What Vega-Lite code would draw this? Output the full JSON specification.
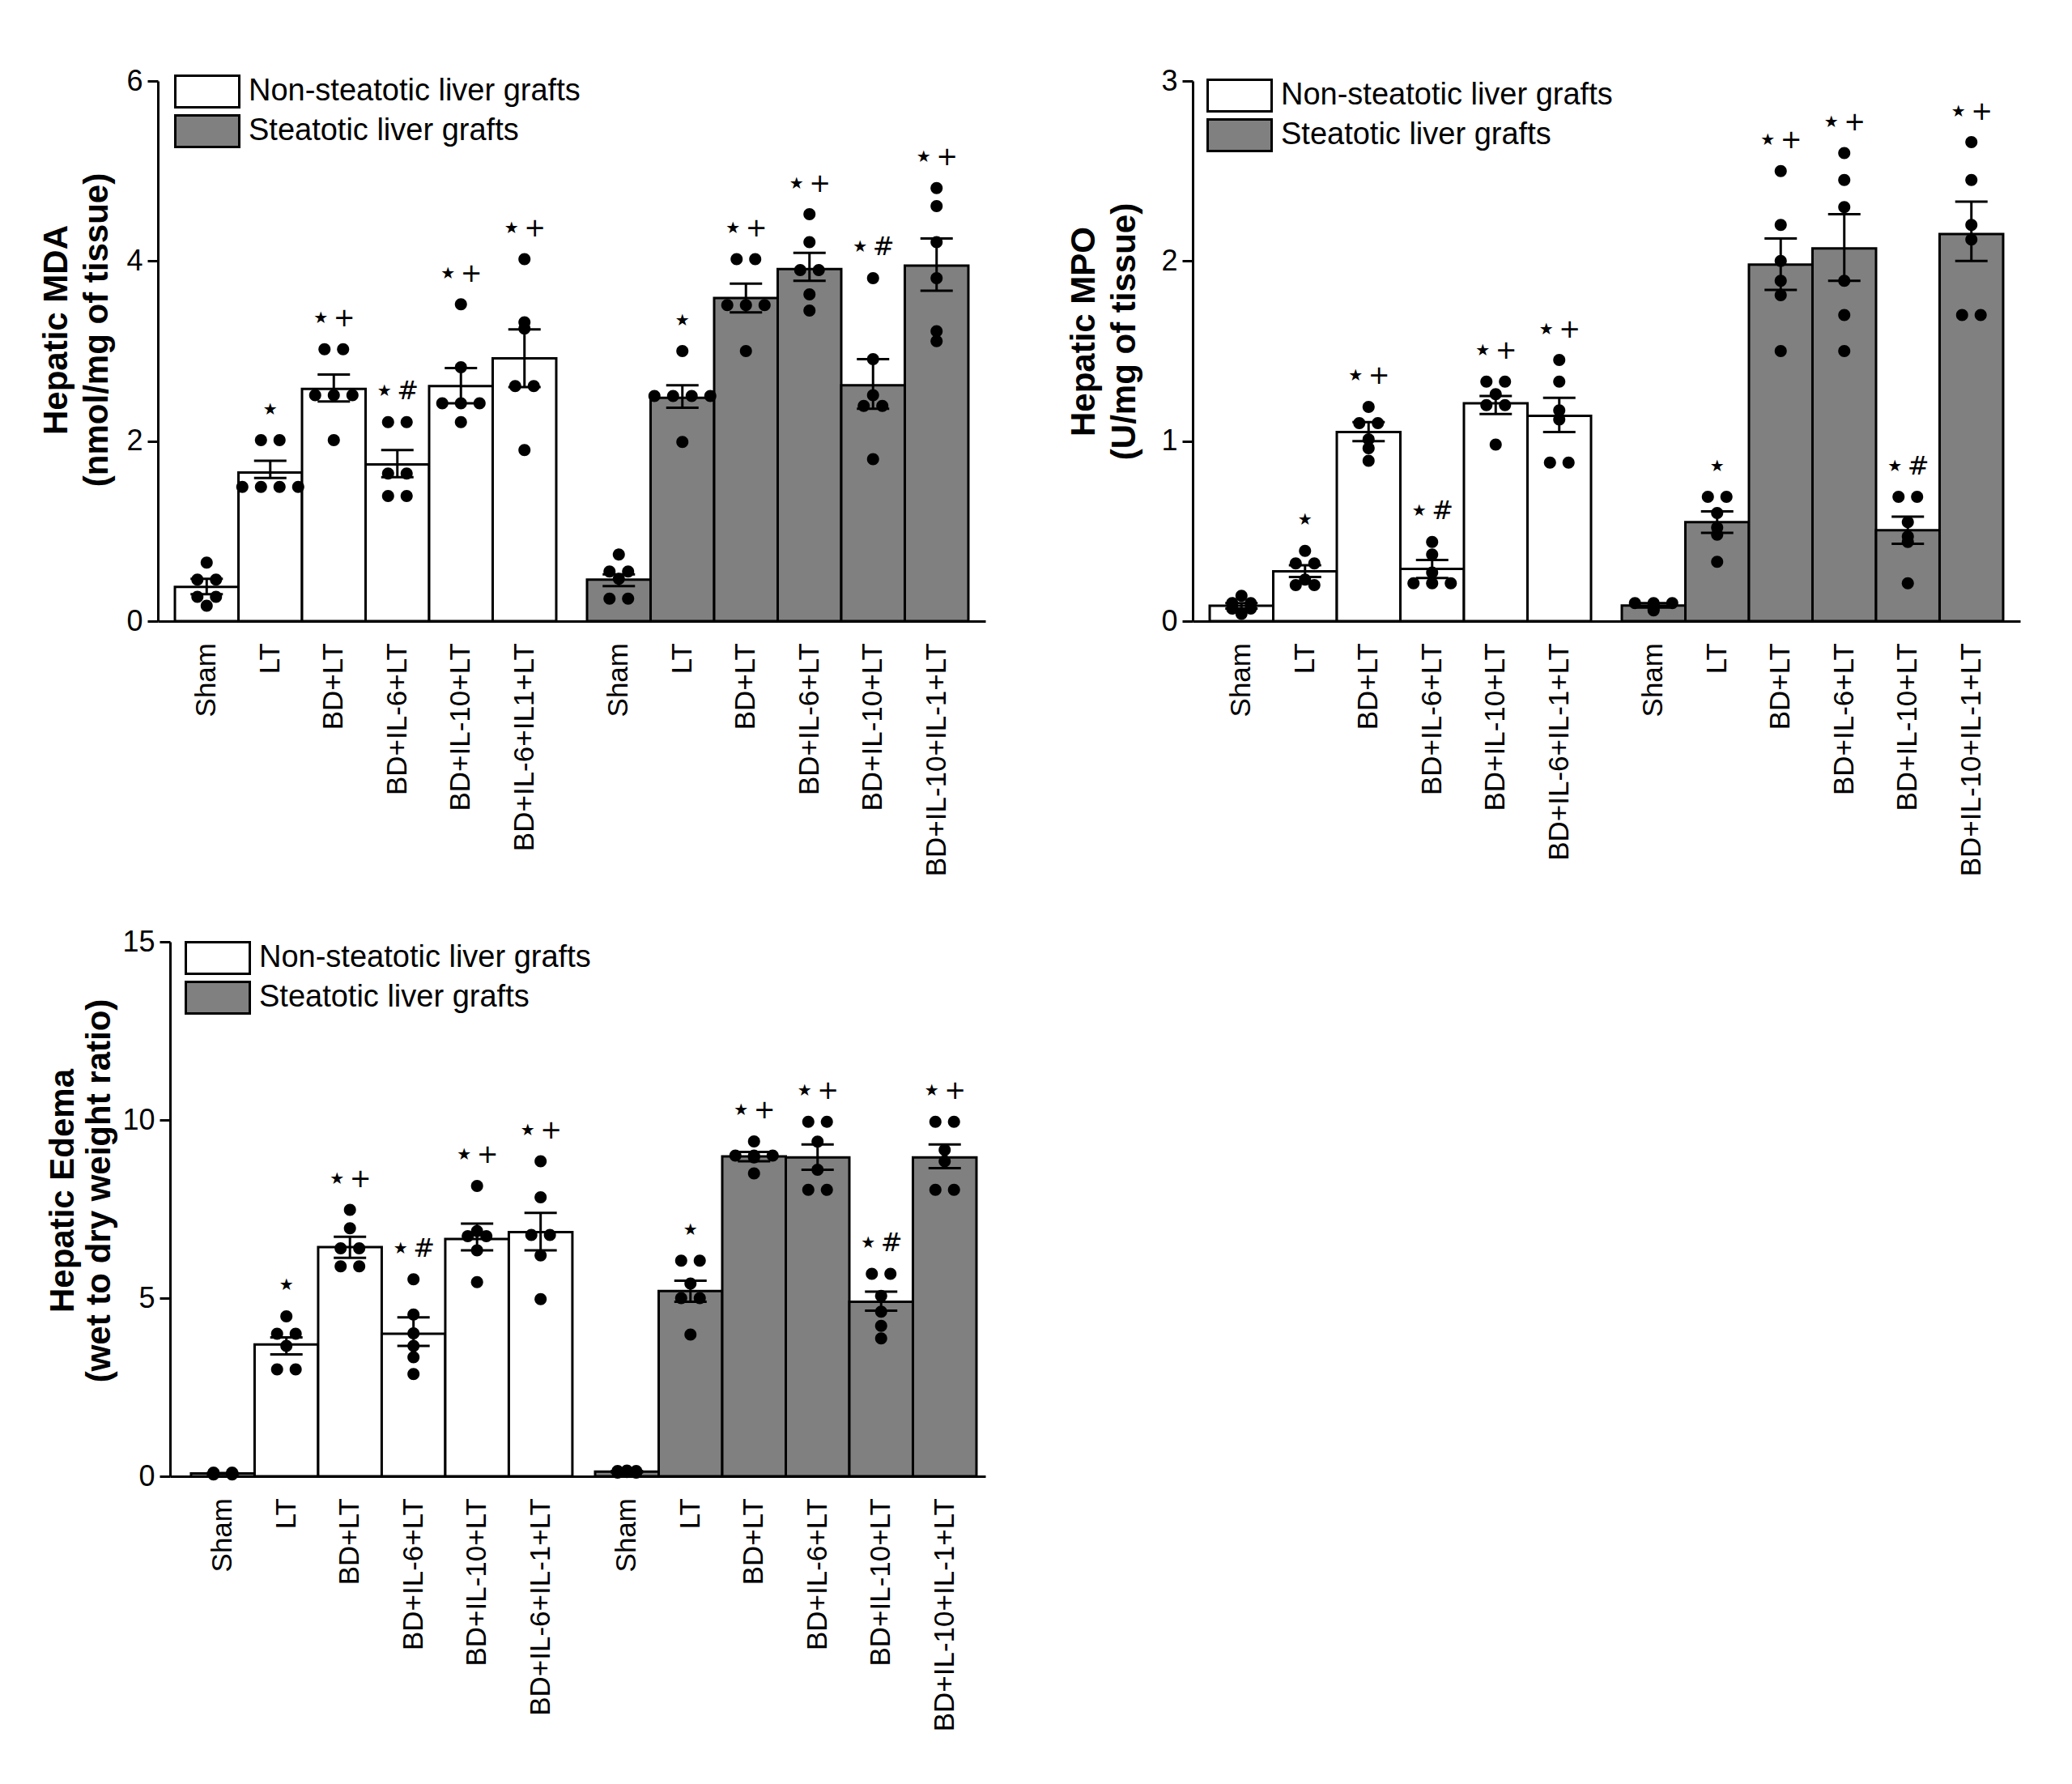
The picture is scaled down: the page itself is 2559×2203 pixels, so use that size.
{
"$schema":"https://vega.github.io/schema/vega-lite/v6.json",
"background":"white",
"padding":{"left":48,"top":82,"right":10,"bottom":10},
"columns":2,
"spacing":{"row":396,"column":256},
"bounds":"flush",
"datasets":{
"bars":[
{"bar":"MDA|N|Sham","panel":"MDA","graft":"Non-steatotic liver grafts","treatment":"Sham","label":"Sham","mean":0.38,"lo":0.3,"hi":0.47,"star":"","sign":""},
{"bar":"MDA|N|LT","panel":"MDA","graft":"Non-steatotic liver grafts","treatment":"LT","label":"LT","mean":1.65,"lo":1.59,"hi":1.78,"star":"★","sign":""},
{"bar":"MDA|N|BD+LT","panel":"MDA","graft":"Non-steatotic liver grafts","treatment":"BD+LT","label":"BD+LT","mean":2.58,"lo":2.44,"hi":2.74,"star":"★","sign":"+"},
{"bar":"MDA|N|BD+IL-6+LT","panel":"MDA","graft":"Non-steatotic liver grafts","treatment":"BD+IL-6+LT","label":"BD+IL-6+LT","mean":1.74,"lo":1.6,"hi":1.9,"star":"★","sign":"#"},
{"bar":"MDA|N|BD+IL-10+LT","panel":"MDA","graft":"Non-steatotic liver grafts","treatment":"BD+IL-10+LT","label":"BD+IL-10+LT","mean":2.61,"lo":2.42,"hi":2.81,"star":"★","sign":"+"},
{"bar":"MDA|N|Combined","panel":"MDA","graft":"Non-steatotic liver grafts","treatment":"Combined","label":"BD+IL-6+IL1+LT","mean":2.92,"lo":2.6,"hi":3.24,"star":"★","sign":"+"},
{"bar":"MDA|S|Sham","panel":"MDA","graft":"Steatotic liver grafts","treatment":"Sham","label":"Sham","mean":0.46,"lo":0.39,"hi":0.52,"star":"","sign":""},
{"bar":"MDA|S|LT","panel":"MDA","graft":"Steatotic liver grafts","treatment":"LT","label":"LT","mean":2.48,"lo":2.37,"hi":2.62,"star":"★","sign":""},
{"bar":"MDA|S|BD+LT","panel":"MDA","graft":"Steatotic liver grafts","treatment":"BD+LT","label":"BD+LT","mean":3.59,"lo":3.43,"hi":3.75,"star":"★","sign":"+"},
{"bar":"MDA|S|BD+IL-6+LT","panel":"MDA","graft":"Steatotic liver grafts","treatment":"BD+IL-6+LT","label":"BD+IL-6+LT","mean":3.91,"lo":3.78,"hi":4.09,"star":"★","sign":"+"},
{"bar":"MDA|S|BD+IL-10+LT","panel":"MDA","graft":"Steatotic liver grafts","treatment":"BD+IL-10+LT","label":"BD+IL-10+LT","mean":2.62,"lo":2.36,"hi":2.91,"star":"★","sign":"#"},
{"bar":"MDA|S|Combined","panel":"MDA","graft":"Steatotic liver grafts","treatment":"Combined","label":"BD+IL-10+IL-1+LT","mean":3.95,"lo":3.67,"hi":4.25,"star":"★","sign":"+"},
{"bar":"MPO|N|Sham","panel":"MPO","graft":"Non-steatotic liver grafts","treatment":"Sham","label":"Sham","mean":0.085,"lo":0.07,"hi":0.1,"star":"","sign":""},
{"bar":"MPO|N|LT","panel":"MPO","graft":"Non-steatotic liver grafts","treatment":"LT","label":"LT","mean":0.277,"lo":0.245,"hi":0.31,"star":"★","sign":""},
{"bar":"MPO|N|BD+LT","panel":"MPO","graft":"Non-steatotic liver grafts","treatment":"BD+LT","label":"BD+LT","mean":1.05,"lo":1.0,"hi":1.105,"star":"★","sign":"+"},
{"bar":"MPO|N|BD+IL-6+LT","panel":"MPO","graft":"Non-steatotic liver grafts","treatment":"BD+IL-6+LT","label":"BD+IL-6+LT","mean":0.29,"lo":0.24,"hi":0.34,"star":"★","sign":"#"},
{"bar":"MPO|N|BD+IL-10+LT","panel":"MPO","graft":"Non-steatotic liver grafts","treatment":"BD+IL-10+LT","label":"BD+IL-10+LT","mean":1.21,"lo":1.15,"hi":1.25,"star":"★","sign":"+"},
{"bar":"MPO|N|Combined","panel":"MPO","graft":"Non-steatotic liver grafts","treatment":"Combined","label":"BD+IL-6+IL-1+LT","mean":1.14,"lo":1.05,"hi":1.24,"star":"★","sign":"+"},
{"bar":"MPO|S|Sham","panel":"MPO","graft":"Steatotic liver grafts","treatment":"Sham","label":"Sham","mean":0.087,"lo":0.075,"hi":0.1,"star":"","sign":""},
{"bar":"MPO|S|LT","panel":"MPO","graft":"Steatotic liver grafts","treatment":"LT","label":"LT","mean":0.55,"lo":0.49,"hi":0.61,"star":"★","sign":""},
{"bar":"MPO|S|BD+LT","panel":"MPO","graft":"Steatotic liver grafts","treatment":"BD+LT","label":"BD+LT","mean":1.98,"lo":1.84,"hi":2.125,"star":"★","sign":"+"},
{"bar":"MPO|S|BD+IL-6+LT","panel":"MPO","graft":"Steatotic liver grafts","treatment":"BD+IL-6+LT","label":"BD+IL-6+LT","mean":2.07,"lo":1.89,"hi":2.26,"star":"★","sign":"+"},
{"bar":"MPO|S|BD+IL-10+LT","panel":"MPO","graft":"Steatotic liver grafts","treatment":"BD+IL-10+LT","label":"BD+IL-10+LT","mean":0.505,"lo":0.43,"hi":0.58,"star":"★","sign":"#"},
{"bar":"MPO|S|Combined","panel":"MPO","graft":"Steatotic liver grafts","treatment":"Combined","label":"BD+IL-10+IL-1+LT","mean":2.15,"lo":2.0,"hi":2.33,"star":"★","sign":"+"},
{"bar":"Edema|N|Sham","panel":"Edema","graft":"Non-steatotic liver grafts","treatment":"Sham","label":"Sham","mean":0.077,"lo":0.06,"hi":0.09,"star":"","sign":""},
{"bar":"Edema|N|LT","panel":"Edema","graft":"Non-steatotic liver grafts","treatment":"LT","label":"LT","mean":3.7,"lo":3.42,"hi":3.9,"star":"★","sign":""},
{"bar":"Edema|N|BD+LT","panel":"Edema","graft":"Non-steatotic liver grafts","treatment":"BD+LT","label":"BD+LT","mean":6.43,"lo":6.13,"hi":6.72,"star":"★","sign":"+"},
{"bar":"Edema|N|BD+IL-6+LT","panel":"Edema","graft":"Non-steatotic liver grafts","treatment":"BD+IL-6+LT","label":"BD+IL-6+LT","mean":4.0,"lo":3.66,"hi":4.46,"star":"★","sign":"#"},
{"bar":"Edema|N|BD+IL-10+LT","panel":"Edema","graft":"Non-steatotic liver grafts","treatment":"BD+IL-10+LT","label":"BD+IL-10+LT","mean":6.66,"lo":6.34,"hi":7.09,"star":"★","sign":"+"},
{"bar":"Edema|N|Combined","panel":"Edema","graft":"Non-steatotic liver grafts","treatment":"Combined","label":"BD+IL-6+IL-1+LT","mean":6.85,"lo":6.34,"hi":7.39,"star":"★","sign":"+"},
{"bar":"Edema|S|Sham","panel":"Edema","graft":"Steatotic liver grafts","treatment":"Sham","label":"Sham","mean":0.13,"lo":0.11,"hi":0.15,"star":"","sign":""},
{"bar":"Edema|S|LT","panel":"Edema","graft":"Steatotic liver grafts","treatment":"LT","label":"LT","mean":5.2,"lo":4.9,"hi":5.49,"star":"★","sign":""},
{"bar":"Edema|S|BD+LT","panel":"Edema","graft":"Steatotic liver grafts","treatment":"BD+LT","label":"BD+LT","mean":8.98,"lo":8.84,"hi":9.1,"star":"★","sign":"+"},
{"bar":"Edema|S|BD+IL-6+LT","panel":"Edema","graft":"Steatotic liver grafts","treatment":"BD+IL-6+LT","label":"BD+IL-6+LT","mean":8.95,"lo":8.6,"hi":9.31,"star":"★","sign":"+"},
{"bar":"Edema|S|BD+IL-10+LT","panel":"Edema","graft":"Steatotic liver grafts","treatment":"BD+IL-10+LT","label":"BD+IL-10+LT","mean":4.9,"lo":4.65,"hi":5.18,"star":"★","sign":"#"},
{"bar":"Edema|S|Combined","panel":"Edema","graft":"Steatotic liver grafts","treatment":"Combined","label":"BD+IL-10+IL-1+LT","mean":8.95,"lo":8.65,"hi":9.31,"star":"★","sign":"+"}
],
"dots":[
{"bar":"MDA|N|Sham","value":0.65},{"bar":"MDA|N|Sham","value":0.46},{"bar":"MDA|N|Sham","value":0.46},{"bar":"MDA|N|Sham","value":0.27},{"bar":"MDA|N|Sham","value":0.27},{"bar":"MDA|N|Sham","value":0.17},
{"bar":"MDA|N|LT","value":2.01},{"bar":"MDA|N|LT","value":2.01},{"bar":"MDA|N|LT","value":1.49},{"bar":"MDA|N|LT","value":1.49},{"bar":"MDA|N|LT","value":1.49},{"bar":"MDA|N|LT","value":1.49},
{"bar":"MDA|N|BD+LT","value":3.02},{"bar":"MDA|N|BD+LT","value":3.02},{"bar":"MDA|N|BD+LT","value":2.51},{"bar":"MDA|N|BD+LT","value":2.51},{"bar":"MDA|N|BD+LT","value":2.51},{"bar":"MDA|N|BD+LT","value":2.01},
{"bar":"MDA|N|BD+IL-6+LT","value":2.21},{"bar":"MDA|N|BD+IL-6+LT","value":2.21},{"bar":"MDA|N|BD+IL-6+LT","value":1.64},{"bar":"MDA|N|BD+IL-6+LT","value":1.64},{"bar":"MDA|N|BD+IL-6+LT","value":1.39},{"bar":"MDA|N|BD+IL-6+LT","value":1.39},
{"bar":"MDA|N|BD+IL-10+LT","value":3.52},{"bar":"MDA|N|BD+IL-10+LT","value":2.82},{"bar":"MDA|N|BD+IL-10+LT","value":2.42},{"bar":"MDA|N|BD+IL-10+LT","value":2.42},{"bar":"MDA|N|BD+IL-10+LT","value":2.42},{"bar":"MDA|N|BD+IL-10+LT","value":2.21},
{"bar":"MDA|N|Combined","value":4.02},{"bar":"MDA|N|Combined","value":3.32},{"bar":"MDA|N|Combined","value":3.25},{"bar":"MDA|N|Combined","value":2.61},{"bar":"MDA|N|Combined","value":2.61},{"bar":"MDA|N|Combined","value":1.9},
{"bar":"MDA|S|Sham","value":0.74},{"bar":"MDA|S|Sham","value":0.55},{"bar":"MDA|S|Sham","value":0.55},{"bar":"MDA|S|Sham","value":0.47},{"bar":"MDA|S|Sham","value":0.25},{"bar":"MDA|S|Sham","value":0.25},
{"bar":"MDA|S|LT","value":3.0},{"bar":"MDA|S|LT","value":2.5},{"bar":"MDA|S|LT","value":2.5},{"bar":"MDA|S|LT","value":2.5},{"bar":"MDA|S|LT","value":2.5},{"bar":"MDA|S|LT","value":1.99},
{"bar":"MDA|S|BD+LT","value":4.02},{"bar":"MDA|S|BD+LT","value":4.02},{"bar":"MDA|S|BD+LT","value":3.51},{"bar":"MDA|S|BD+LT","value":3.51},{"bar":"MDA|S|BD+LT","value":3.51},{"bar":"MDA|S|BD+LT","value":3.0},
{"bar":"MDA|S|BD+IL-6+LT","value":4.52},{"bar":"MDA|S|BD+IL-6+LT","value":4.21},{"bar":"MDA|S|BD+IL-6+LT","value":3.9},{"bar":"MDA|S|BD+IL-6+LT","value":3.9},{"bar":"MDA|S|BD+IL-6+LT","value":3.63},{"bar":"MDA|S|BD+IL-6+LT","value":3.45},
{"bar":"MDA|S|BD+IL-10+LT","value":3.81},{"bar":"MDA|S|BD+IL-10+LT","value":2.91},{"bar":"MDA|S|BD+IL-10+LT","value":2.51},{"bar":"MDA|S|BD+IL-10+LT","value":2.39},{"bar":"MDA|S|BD+IL-10+LT","value":2.39},{"bar":"MDA|S|BD+IL-10+LT","value":1.8},
{"bar":"MDA|S|Combined","value":4.81},{"bar":"MDA|S|Combined","value":4.61},{"bar":"MDA|S|Combined","value":4.21},{"bar":"MDA|S|Combined","value":3.81},{"bar":"MDA|S|Combined","value":3.22},{"bar":"MDA|S|Combined","value":3.11},
{"bar":"MPO|N|Sham","value":0.14},{"bar":"MPO|N|Sham","value":0.1},{"bar":"MPO|N|Sham","value":0.1},{"bar":"MPO|N|Sham","value":0.07},{"bar":"MPO|N|Sham","value":0.07},{"bar":"MPO|N|Sham","value":0.04},
{"bar":"MPO|N|LT","value":0.39},{"bar":"MPO|N|LT","value":0.32},{"bar":"MPO|N|LT","value":0.32},{"bar":"MPO|N|LT","value":0.23},{"bar":"MPO|N|LT","value":0.2},{"bar":"MPO|N|LT","value":0.2},
{"bar":"MPO|N|BD+LT","value":1.19},{"bar":"MPO|N|BD+LT","value":1.1},{"bar":"MPO|N|BD+LT","value":1.1},{"bar":"MPO|N|BD+LT","value":1.01},{"bar":"MPO|N|BD+LT","value":0.96},{"bar":"MPO|N|BD+LT","value":0.89},
{"bar":"MPO|N|BD+IL-6+LT","value":0.44},{"bar":"MPO|N|BD+IL-6+LT","value":0.37},{"bar":"MPO|N|BD+IL-6+LT","value":0.27},{"bar":"MPO|N|BD+IL-6+LT","value":0.21},{"bar":"MPO|N|BD+IL-6+LT","value":0.21},{"bar":"MPO|N|BD+IL-6+LT","value":0.21},
{"bar":"MPO|N|BD+IL-10+LT","value":1.33},{"bar":"MPO|N|BD+IL-10+LT","value":1.33},{"bar":"MPO|N|BD+IL-10+LT","value":1.26},{"bar":"MPO|N|BD+IL-10+LT","value":1.2},{"bar":"MPO|N|BD+IL-10+LT","value":1.2},{"bar":"MPO|N|BD+IL-10+LT","value":0.98},
{"bar":"MPO|N|Combined","value":1.45},{"bar":"MPO|N|Combined","value":1.33},{"bar":"MPO|N|Combined","value":1.17},{"bar":"MPO|N|Combined","value":1.12},{"bar":"MPO|N|Combined","value":0.88},{"bar":"MPO|N|Combined","value":0.88},
{"bar":"MPO|S|Sham","value":0.1},{"bar":"MPO|S|Sham","value":0.1},{"bar":"MPO|S|Sham","value":0.1},{"bar":"MPO|S|Sham","value":0.09},{"bar":"MPO|S|Sham","value":0.07},{"bar":"MPO|S|Sham","value":0.06},
{"bar":"MPO|S|LT","value":0.69},{"bar":"MPO|S|LT","value":0.69},{"bar":"MPO|S|LT","value":0.6},{"bar":"MPO|S|LT","value":0.52},{"bar":"MPO|S|LT","value":0.48},{"bar":"MPO|S|LT","value":0.33},
{"bar":"MPO|S|BD+LT","value":2.5},{"bar":"MPO|S|BD+LT","value":2.2},{"bar":"MPO|S|BD+LT","value":2.0},{"bar":"MPO|S|BD+LT","value":1.89},{"bar":"MPO|S|BD+LT","value":1.81},{"bar":"MPO|S|BD+LT","value":1.5},
{"bar":"MPO|S|BD+IL-6+LT","value":2.6},{"bar":"MPO|S|BD+IL-6+LT","value":2.45},{"bar":"MPO|S|BD+IL-6+LT","value":2.3},{"bar":"MPO|S|BD+IL-6+LT","value":1.89},{"bar":"MPO|S|BD+IL-6+LT","value":1.7},{"bar":"MPO|S|BD+IL-6+LT","value":1.5},
{"bar":"MPO|S|BD+IL-10+LT","value":0.69},{"bar":"MPO|S|BD+IL-10+LT","value":0.69},{"bar":"MPO|S|BD+IL-10+LT","value":0.55},{"bar":"MPO|S|BD+IL-10+LT","value":0.47},{"bar":"MPO|S|BD+IL-10+LT","value":0.44},{"bar":"MPO|S|BD+IL-10+LT","value":0.21},
{"bar":"MPO|S|Combined","value":2.66},{"bar":"MPO|S|Combined","value":2.45},{"bar":"MPO|S|Combined","value":2.2},{"bar":"MPO|S|Combined","value":2.12},{"bar":"MPO|S|Combined","value":1.7},{"bar":"MPO|S|Combined","value":1.7},
{"bar":"Edema|N|Sham","value":0.1},{"bar":"Edema|N|Sham","value":0.1},{"bar":"Edema|N|Sham","value":0.08},{"bar":"Edema|N|Sham","value":0.08},{"bar":"Edema|N|Sham","value":0.05},{"bar":"Edema|N|Sham","value":0.05},
{"bar":"Edema|N|LT","value":4.49},{"bar":"Edema|N|LT","value":4.0},{"bar":"Edema|N|LT","value":4.0},{"bar":"Edema|N|LT","value":3.66},{"bar":"Edema|N|LT","value":3.0},{"bar":"Edema|N|LT","value":3.0},
{"bar":"Edema|N|BD+LT","value":7.48},{"bar":"Edema|N|BD+LT","value":6.96},{"bar":"Edema|N|BD+LT","value":6.4},{"bar":"Edema|N|BD+LT","value":6.4},{"bar":"Edema|N|BD+LT","value":5.89},{"bar":"Edema|N|BD+LT","value":5.89},
{"bar":"Edema|N|BD+IL-6+LT","value":5.53},{"bar":"Edema|N|BD+IL-6+LT","value":4.54},{"bar":"Edema|N|BD+IL-6+LT","value":4.01},{"bar":"Edema|N|BD+IL-6+LT","value":3.66},{"bar":"Edema|N|BD+IL-6+LT","value":3.34},{"bar":"Edema|N|BD+IL-6+LT","value":2.87},
{"bar":"Edema|N|BD+IL-10+LT","value":8.15},{"bar":"Edema|N|BD+IL-10+LT","value":6.88},{"bar":"Edema|N|BD+IL-10+LT","value":6.74},{"bar":"Edema|N|BD+IL-10+LT","value":6.74},{"bar":"Edema|N|BD+IL-10+LT","value":6.34},{"bar":"Edema|N|BD+IL-10+LT","value":5.45},
{"bar":"Edema|N|Combined","value":8.84},{"bar":"Edema|N|Combined","value":7.83},{"bar":"Edema|N|Combined","value":6.77},{"bar":"Edema|N|Combined","value":6.77},{"bar":"Edema|N|Combined","value":6.2},{"bar":"Edema|N|Combined","value":4.97},
{"bar":"Edema|S|Sham","value":0.16},{"bar":"Edema|S|Sham","value":0.15},{"bar":"Edema|S|Sham","value":0.15},{"bar":"Edema|S|Sham","value":0.12},{"bar":"Edema|S|Sham","value":0.1},{"bar":"Edema|S|Sham","value":0.1},
{"bar":"Edema|S|LT","value":6.05},{"bar":"Edema|S|LT","value":6.05},{"bar":"Edema|S|LT","value":5.41},{"bar":"Edema|S|LT","value":5.0},{"bar":"Edema|S|LT","value":5.0},{"bar":"Edema|S|LT","value":3.98},
{"bar":"Edema|S|BD+LT","value":9.4},{"bar":"Edema|S|BD+LT","value":9.0},{"bar":"Edema|S|BD+LT","value":9.0},{"bar":"Edema|S|BD+LT","value":9.0},{"bar":"Edema|S|BD+LT","value":8.95},{"bar":"Edema|S|BD+LT","value":8.5},
{"bar":"Edema|S|BD+IL-6+LT","value":9.95},{"bar":"Edema|S|BD+IL-6+LT","value":9.95},{"bar":"Edema|S|BD+IL-6+LT","value":9.39},{"bar":"Edema|S|BD+IL-6+LT","value":8.6},{"bar":"Edema|S|BD+IL-6+LT","value":8.04},{"bar":"Edema|S|BD+IL-6+LT","value":8.04},
{"bar":"Edema|S|BD+IL-10+LT","value":5.68},{"bar":"Edema|S|BD+IL-10+LT","value":5.68},{"bar":"Edema|S|BD+IL-10+LT","value":5.06},{"bar":"Edema|S|BD+IL-10+LT","value":4.62},{"bar":"Edema|S|BD+IL-10+LT","value":4.22},{"bar":"Edema|S|BD+IL-10+LT","value":3.87},
{"bar":"Edema|S|Combined","value":9.95},{"bar":"Edema|S|Combined","value":9.95},{"bar":"Edema|S|Combined","value":9.16},{"bar":"Edema|S|Combined","value":8.84},{"bar":"Edema|S|Combined","value":8.04},{"bar":"Edema|S|Combined","value":8.04}
]
},
"concat":[
{
"width":1022,"height":667,
"encoding":{
"x":{"field":"graft","type":"nominal","scale":{"domain":["Non-steatotic liver grafts","Steatotic liver grafts"],"paddingInner":0.0747,"paddingOuter":0.0413},"axis":{"title":null,"labels":false,"ticks":false,"domainColor":"black","domainWidth":3}},
"xOffset":{"field":"treatment","type":"nominal","scale":{"domain":["Sham","LT","BD+LT","BD+IL-6+LT","BD+IL-10+LT","Combined"],"paddingInner":0,"paddingOuter":0}}
},
"layer":[
{"data":{"name":"bars"},"transform":[{"filter":"datum.panel === 'MDA'"}],"mark":{"type":"bar","stroke":"black","strokeWidth":3},
"encoding":{"y":{"field":"mean","type":"quantitative","scale":{"domain":[0,6],"nice":false},"axis":{"title":["Hepatic MDA","(nmol/mg of tissue)"],"values":[0,2,4,6],"titleX":-104,"titleY":307}},
"fill":{"field":"graft","type":"nominal","scale":{"domain":["Non-steatotic liver grafts","Steatotic liver grafts"],"range":["#ffffff","#808080"]},"legend":{"title":null,"orient":"none","legendX":20,"legendY":-8,"padding":0,"symbolType":"M-1,-0.494H1V0.494H-1Z","symbolSize":6241,"symbolStrokeColor":"black","symbolStrokeWidth":3,"symbolOpacity":1,"labelFontSize":38,"labelFont":"Liberation Sans","labelColor":"black","labelOffset":10,"labelLimit":0,"rowPadding":7,"clipHeight":42}}}},
{"data":{"name":"bars"},"transform":[{"filter":"datum.panel === 'MDA'"}],"mark":{"type":"rule","color":"black","strokeWidth":3},"encoding":{"y":{"field":"lo","type":"quantitative","scale":{"domain":[0,6],"nice":false},"axis":{"title":["Hepatic MDA","(nmol/mg of tissue)"],"values":[0,2,4,6],"titleX":-104,"titleY":307}},"y2":{"field":"hi"}}},
{"data":{"name":"bars"},"transform":[{"filter":"datum.panel === 'MDA'"}],"mark":{"type":"point","shape":"M-1,0H1","filled":false,"color":"black","stroke":"black","strokeWidth":3,"size":1600,"opacity":1},"encoding":{"y":{"field":"hi","type":"quantitative","scale":{"domain":[0,6],"nice":false},"axis":{"title":["Hepatic MDA","(nmol/mg of tissue)"],"values":[0,2,4,6],"titleX":-104,"titleY":307}}}},
{"data":{"name":"bars"},"transform":[{"filter":"datum.panel === 'MDA'"}],"mark":{"type":"point","shape":"M-1,0H1","filled":false,"color":"black","stroke":"black","strokeWidth":3,"size":1600,"opacity":1},"encoding":{"y":{"field":"lo","type":"quantitative","scale":{"domain":[0,6],"nice":false},"axis":{"title":["Hepatic MDA","(nmol/mg of tissue)"],"values":[0,2,4,6],"titleX":-104,"titleY":307}}}},
{"data":{"name":"dots"},"transform":[{"lookup":"bar","from":{"data":{"name":"bars"},"key":"bar","fields":["panel","graft","treatment"]}},{"filter":"datum.panel === 'MDA'"},{"window":[{"op":"row_number","as":"r"},{"op":"count","as":"n"}],"groupby":["bar","value"],"frame":[null,null]},{"filter":"datum.n === 1"}],
"mark":{"type":"point","shape":"M-1,0A1,1,0,1,1,1,0A1,1,0,1,1,-1,0Z","filled":true,"color":"black","size":225,"opacity":1,"strokeWidth":0},"encoding":{"y":{"field":"value","type":"quantitative","scale":{"domain":[0,6],"nice":false},"axis":{"title":["Hepatic MDA","(nmol/mg of tissue)"],"values":[0,2,4,6],"titleX":-104,"titleY":307}}}},
{"data":{"name":"dots"},"transform":[{"lookup":"bar","from":{"data":{"name":"bars"},"key":"bar","fields":["panel","graft","treatment"]}},{"filter":"datum.panel === 'MDA'"},{"window":[{"op":"row_number","as":"r"},{"op":"count","as":"n"}],"groupby":["bar","value"],"frame":[null,null]},{"filter":"datum.n === 2"}],
"mark":{"type":"point","filled":true,"color":"black","size":225,"opacity":1,"strokeWidth":0},"encoding":{"y":{"field":"value","type":"quantitative","scale":{"domain":[0,6],"nice":false},"axis":{"title":["Hepatic MDA","(nmol/mg of tissue)"],"values":[0,2,4,6],"titleX":-104,"titleY":307}},"shape":{"field":"r","type":"ordinal","scale":{"domain":[1,2],"range":["M-2.53,0A1,1,0,1,1,-0.53,0A1,1,0,1,1,-2.53,0Z","M0.53,0A1,1,0,1,1,2.53,0A1,1,0,1,1,0.53,0Z"]},"legend":null}}},
{"data":{"name":"dots"},"transform":[{"lookup":"bar","from":{"data":{"name":"bars"},"key":"bar","fields":["panel","graft","treatment"]}},{"filter":"datum.panel === 'MDA'"},{"window":[{"op":"row_number","as":"r"},{"op":"count","as":"n"}],"groupby":["bar","value"],"frame":[null,null]},{"filter":"datum.n === 3"}],
"mark":{"type":"point","filled":true,"color":"black","size":225,"opacity":1,"strokeWidth":0},"encoding":{"y":{"field":"value","type":"quantitative","scale":{"domain":[0,6],"nice":false},"axis":{"title":["Hepatic MDA","(nmol/mg of tissue)"],"values":[0,2,4,6],"titleX":-104,"titleY":307}},"shape":{"field":"r","type":"ordinal","scale":{"domain":[1,2,3],"range":["M-4.07,0A1,1,0,1,1,-2.07,0A1,1,0,1,1,-4.07,0Z","M-1,0A1,1,0,1,1,1,0A1,1,0,1,1,-1,0Z","M2.07,0A1,1,0,1,1,4.07,0A1,1,0,1,1,2.07,0Z"]},"legend":null}}},
{"data":{"name":"dots"},"transform":[{"lookup":"bar","from":{"data":{"name":"bars"},"key":"bar","fields":["panel","graft","treatment"]}},{"filter":"datum.panel === 'MDA'"},{"window":[{"op":"row_number","as":"r"},{"op":"count","as":"n"}],"groupby":["bar","value"],"frame":[null,null]},{"filter":"datum.n === 4"}],
"mark":{"type":"point","filled":true,"color":"black","size":225,"opacity":1,"strokeWidth":0},"encoding":{"y":{"field":"value","type":"quantitative","scale":{"domain":[0,6],"nice":false},"axis":{"title":["Hepatic MDA","(nmol/mg of tissue)"],"values":[0,2,4,6],"titleX":-104,"titleY":307}},"shape":{"field":"r","type":"ordinal","scale":{"domain":[1,2,3,4],"range":["M-5.6,0A1,1,0,1,1,-3.6,0A1,1,0,1,1,-5.6,0Z","M-2.53,0A1,1,0,1,1,-0.53,0A1,1,0,1,1,-2.53,0Z","M0.53,0A1,1,0,1,1,2.53,0A1,1,0,1,1,0.53,0Z","M3.6,0A1,1,0,1,1,5.6,0A1,1,0,1,1,3.6,0Z"]},"legend":null}}},
{"data":{"name":"dots"},"transform":[{"aggregate":[{"op":"max","field":"value","as":"top"}],"groupby":["bar"]},{"lookup":"bar","from":{"data":{"name":"bars"},"key":"bar","fields":["panel","graft","treatment","star","sign"]}},{"filter":"datum.panel === 'MDA' && datum.star !== '' && datum.sign === ''"}],
"mark":{"type":"text","font":"DejaVu Sans","fontSize":20,"baseline":"middle","align":"center","dy":-38,"color":"black"},"encoding":{"y":{"field":"top","type":"quantitative","scale":{"domain":[0,6],"nice":false},"axis":{"title":["Hepatic MDA","(nmol/mg of tissue)"],"values":[0,2,4,6],"titleX":-104,"titleY":307}},"text":{"field":"star"}}},
{"data":{"name":"dots"},"transform":[{"aggregate":[{"op":"max","field":"value","as":"top"}],"groupby":["bar"]},{"lookup":"bar","from":{"data":{"name":"bars"},"key":"bar","fields":["panel","graft","treatment","star","sign"]}},{"filter":"datum.panel === 'MDA' && datum.sign !== ''"}],
"mark":{"type":"text","font":"DejaVu Sans","fontSize":20,"baseline":"middle","align":"center","dy":-38,"dx":-16,"color":"black"},"encoding":{"y":{"field":"top","type":"quantitative","scale":{"domain":[0,6],"nice":false},"axis":{"title":["Hepatic MDA","(nmol/mg of tissue)"],"values":[0,2,4,6],"titleX":-104,"titleY":307}},"text":{"field":"star"}}},
{"data":{"name":"dots"},"transform":[{"aggregate":[{"op":"max","field":"value","as":"top"}],"groupby":["bar"]},{"lookup":"bar","from":{"data":{"name":"bars"},"key":"bar","fields":["panel","graft","treatment","star","sign"]}},{"filter":"datum.panel === 'MDA' && datum.sign !== ''"}],
"mark":{"type":"text","font":"DejaVu Sans","fontSize":32,"baseline":"middle","align":"center","dy":-38,"dx":13,"color":"black"},"encoding":{"y":{"field":"top","type":"quantitative","scale":{"domain":[0,6],"nice":false},"axis":{"title":["Hepatic MDA","(nmol/mg of tissue)"],"values":[0,2,4,6],"titleX":-104,"titleY":307}},"text":{"field":"sign"}}},
{"data":{"name":"bars"},"transform":[{"filter":"datum.panel === 'MDA'"}],"mark":{"type":"text","angle":270,"align":"right","baseline":"middle","dx":-27,"fontSize":35,"font":"Liberation Sans","color":"black"},"encoding":{"y":{"datum":0,"type":"quantitative","scale":{"domain":[0,6],"nice":false},"axis":{"title":["Hepatic MDA","(nmol/mg of tissue)"],"values":[0,2,4,6],"titleX":-104,"titleY":307}},"text":{"field":"label"}}}
],
"resolve":{"scale":{"shape":"independent"}}
},
{
"width":1022,"height":667,
"encoding":{
"x":{"field":"graft","type":"nominal","scale":{"domain":["Non-steatotic liver grafts","Steatotic liver grafts"],"paddingInner":0.0747,"paddingOuter":0.0413},"axis":{"title":null,"labels":false,"ticks":false,"domainColor":"black","domainWidth":3}},
"xOffset":{"field":"treatment","type":"nominal","scale":{"domain":["Sham","LT","BD+LT","BD+IL-6+LT","BD+IL-10+LT","Combined"],"paddingInner":0,"paddingOuter":0}}
},
"layer":[
{"data":{"name":"bars"},"transform":[{"filter":"datum.panel === 'MPO'"}],"mark":{"type":"bar","stroke":"black","strokeWidth":3},
"encoding":{"y":{"field":"mean","type":"quantitative","scale":{"domain":[0,3],"nice":false},"axis":{"title":["Hepatic MPO","(U/mg of tissue)"],"values":[0,1,2,3],"titleX":-113,"titleY":309}},
"fill":{"field":"graft","type":"nominal","scale":{"domain":["Non-steatotic liver grafts","Steatotic liver grafts"],"range":["#ffffff","#808080"]},"legend":{"title":null,"orient":"none","legendX":17,"legendY":-3,"padding":0,"symbolType":"M-1,-0.494H1V0.494H-1Z","symbolSize":6241,"symbolStrokeColor":"black","symbolStrokeWidth":3,"symbolOpacity":1,"labelFontSize":38,"labelFont":"Liberation Sans","labelColor":"black","labelOffset":10,"labelLimit":0,"rowPadding":7,"clipHeight":42}}}},
{"data":{"name":"bars"},"transform":[{"filter":"datum.panel === 'MPO'"}],"mark":{"type":"rule","color":"black","strokeWidth":3},"encoding":{"y":{"field":"lo","type":"quantitative","scale":{"domain":[0,3],"nice":false},"axis":{"title":["Hepatic MPO","(U/mg of tissue)"],"values":[0,1,2,3],"titleX":-113,"titleY":309}},"y2":{"field":"hi"}}},
{"data":{"name":"bars"},"transform":[{"filter":"datum.panel === 'MPO'"}],"mark":{"type":"point","shape":"M-1,0H1","filled":false,"color":"black","stroke":"black","strokeWidth":3,"size":1600,"opacity":1},"encoding":{"y":{"field":"hi","type":"quantitative","scale":{"domain":[0,3],"nice":false},"axis":{"title":["Hepatic MPO","(U/mg of tissue)"],"values":[0,1,2,3],"titleX":-113,"titleY":309}}}},
{"data":{"name":"bars"},"transform":[{"filter":"datum.panel === 'MPO'"}],"mark":{"type":"point","shape":"M-1,0H1","filled":false,"color":"black","stroke":"black","strokeWidth":3,"size":1600,"opacity":1},"encoding":{"y":{"field":"lo","type":"quantitative","scale":{"domain":[0,3],"nice":false},"axis":{"title":["Hepatic MPO","(U/mg of tissue)"],"values":[0,1,2,3],"titleX":-113,"titleY":309}}}},
{"data":{"name":"dots"},"transform":[{"lookup":"bar","from":{"data":{"name":"bars"},"key":"bar","fields":["panel","graft","treatment"]}},{"filter":"datum.panel === 'MPO'"},{"window":[{"op":"row_number","as":"r"},{"op":"count","as":"n"}],"groupby":["bar","value"],"frame":[null,null]},{"filter":"datum.n === 1"}],
"mark":{"type":"point","shape":"M-1,0A1,1,0,1,1,1,0A1,1,0,1,1,-1,0Z","filled":true,"color":"black","size":225,"opacity":1,"strokeWidth":0},"encoding":{"y":{"field":"value","type":"quantitative","scale":{"domain":[0,3],"nice":false},"axis":{"title":["Hepatic MPO","(U/mg of tissue)"],"values":[0,1,2,3],"titleX":-113,"titleY":309}}}},
{"data":{"name":"dots"},"transform":[{"lookup":"bar","from":{"data":{"name":"bars"},"key":"bar","fields":["panel","graft","treatment"]}},{"filter":"datum.panel === 'MPO'"},{"window":[{"op":"row_number","as":"r"},{"op":"count","as":"n"}],"groupby":["bar","value"],"frame":[null,null]},{"filter":"datum.n === 2"}],
"mark":{"type":"point","filled":true,"color":"black","size":225,"opacity":1,"strokeWidth":0},"encoding":{"y":{"field":"value","type":"quantitative","scale":{"domain":[0,3],"nice":false},"axis":{"title":["Hepatic MPO","(U/mg of tissue)"],"values":[0,1,2,3],"titleX":-113,"titleY":309}},"shape":{"field":"r","type":"ordinal","scale":{"domain":[1,2],"range":["M-2.53,0A1,1,0,1,1,-0.53,0A1,1,0,1,1,-2.53,0Z","M0.53,0A1,1,0,1,1,2.53,0A1,1,0,1,1,0.53,0Z"]},"legend":null}}},
{"data":{"name":"dots"},"transform":[{"lookup":"bar","from":{"data":{"name":"bars"},"key":"bar","fields":["panel","graft","treatment"]}},{"filter":"datum.panel === 'MPO'"},{"window":[{"op":"row_number","as":"r"},{"op":"count","as":"n"}],"groupby":["bar","value"],"frame":[null,null]},{"filter":"datum.n === 3"}],
"mark":{"type":"point","filled":true,"color":"black","size":225,"opacity":1,"strokeWidth":0},"encoding":{"y":{"field":"value","type":"quantitative","scale":{"domain":[0,3],"nice":false},"axis":{"title":["Hepatic MPO","(U/mg of tissue)"],"values":[0,1,2,3],"titleX":-113,"titleY":309}},"shape":{"field":"r","type":"ordinal","scale":{"domain":[1,2,3],"range":["M-4.07,0A1,1,0,1,1,-2.07,0A1,1,0,1,1,-4.07,0Z","M-1,0A1,1,0,1,1,1,0A1,1,0,1,1,-1,0Z","M2.07,0A1,1,0,1,1,4.07,0A1,1,0,1,1,2.07,0Z"]},"legend":null}}},
{"data":{"name":"dots"},"transform":[{"lookup":"bar","from":{"data":{"name":"bars"},"key":"bar","fields":["panel","graft","treatment"]}},{"filter":"datum.panel === 'MPO'"},{"window":[{"op":"row_number","as":"r"},{"op":"count","as":"n"}],"groupby":["bar","value"],"frame":[null,null]},{"filter":"datum.n === 4"}],
"mark":{"type":"point","filled":true,"color":"black","size":225,"opacity":1,"strokeWidth":0},"encoding":{"y":{"field":"value","type":"quantitative","scale":{"domain":[0,3],"nice":false},"axis":{"title":["Hepatic MPO","(U/mg of tissue)"],"values":[0,1,2,3],"titleX":-113,"titleY":309}},"shape":{"field":"r","type":"ordinal","scale":{"domain":[1,2,3,4],"range":["M-5.6,0A1,1,0,1,1,-3.6,0A1,1,0,1,1,-5.6,0Z","M-2.53,0A1,1,0,1,1,-0.53,0A1,1,0,1,1,-2.53,0Z","M0.53,0A1,1,0,1,1,2.53,0A1,1,0,1,1,0.53,0Z","M3.6,0A1,1,0,1,1,5.6,0A1,1,0,1,1,3.6,0Z"]},"legend":null}}},
{"data":{"name":"dots"},"transform":[{"aggregate":[{"op":"max","field":"value","as":"top"}],"groupby":["bar"]},{"lookup":"bar","from":{"data":{"name":"bars"},"key":"bar","fields":["panel","graft","treatment","star","sign"]}},{"filter":"datum.panel === 'MPO' && datum.star !== '' && datum.sign === ''"}],
"mark":{"type":"text","font":"DejaVu Sans","fontSize":20,"baseline":"middle","align":"center","dy":-38,"color":"black"},"encoding":{"y":{"field":"top","type":"quantitative","scale":{"domain":[0,3],"nice":false},"axis":{"title":["Hepatic MPO","(U/mg of tissue)"],"values":[0,1,2,3],"titleX":-113,"titleY":309}},"text":{"field":"star"}}},
{"data":{"name":"dots"},"transform":[{"aggregate":[{"op":"max","field":"value","as":"top"}],"groupby":["bar"]},{"lookup":"bar","from":{"data":{"name":"bars"},"key":"bar","fields":["panel","graft","treatment","star","sign"]}},{"filter":"datum.panel === 'MPO' && datum.sign !== ''"}],
"mark":{"type":"text","font":"DejaVu Sans","fontSize":20,"baseline":"middle","align":"center","dy":-38,"dx":-16,"color":"black"},"encoding":{"y":{"field":"top","type":"quantitative","scale":{"domain":[0,3],"nice":false},"axis":{"title":["Hepatic MPO","(U/mg of tissue)"],"values":[0,1,2,3],"titleX":-113,"titleY":309}},"text":{"field":"star"}}},
{"data":{"name":"dots"},"transform":[{"aggregate":[{"op":"max","field":"value","as":"top"}],"groupby":["bar"]},{"lookup":"bar","from":{"data":{"name":"bars"},"key":"bar","fields":["panel","graft","treatment","star","sign"]}},{"filter":"datum.panel === 'MPO' && datum.sign !== ''"}],
"mark":{"type":"text","font":"DejaVu Sans","fontSize":32,"baseline":"middle","align":"center","dy":-38,"dx":13,"color":"black"},"encoding":{"y":{"field":"top","type":"quantitative","scale":{"domain":[0,3],"nice":false},"axis":{"title":["Hepatic MPO","(U/mg of tissue)"],"values":[0,1,2,3],"titleX":-113,"titleY":309}},"text":{"field":"sign"}}},
{"data":{"name":"bars"},"transform":[{"filter":"datum.panel === 'MPO'"}],"mark":{"type":"text","angle":270,"align":"right","baseline":"middle","dx":-27,"fontSize":35,"font":"Liberation Sans","color":"black"},"encoding":{"y":{"datum":0,"type":"quantitative","scale":{"domain":[0,3],"nice":false},"axis":{"title":["Hepatic MPO","(U/mg of tissue)"],"values":[0,1,2,3],"titleX":-113,"titleY":309}},"text":{"field":"label"}}}
],
"resolve":{"scale":{"shape":"independent"}}
},
{
"width":1022,"height":660,
"encoding":{
"x":{"field":"graft","type":"nominal","scale":{"domain":["Non-steatotic liver grafts","Steatotic liver grafts"],"range":[15,1022],"paddingInner":0.0862,"paddingOuter":0.052},"axis":{"title":null,"labels":false,"ticks":false,"domainColor":"black","domainWidth":3}},
"xOffset":{"field":"treatment","type":"nominal","scale":{"domain":["Sham","LT","BD+LT","BD+IL-6+LT","BD+IL-10+LT","Combined"],"paddingInner":0,"paddingOuter":0}}
},
"layer":[
{"data":{"name":"bars"},"transform":[{"filter":"datum.panel === 'Edema'"}],"mark":{"type":"bar","stroke":"black","strokeWidth":3},
"encoding":{"y":{"field":"mean","type":"quantitative","scale":{"domain":[0,15],"nice":false},"axis":{"title":["Hepatic Edema","(wet to dry weight ratio)"],"values":[0,5,10,15],"offset":-15,"titleX":-111,"titleY":307,"titleLineHeight":45}},
"fill":{"field":"graft","type":"nominal","scale":{"domain":["Non-steatotic liver grafts","Steatotic liver grafts"],"range":["#ffffff","#808080"]},"legend":{"title":null,"orient":"none","legendX":33,"legendY":-1,"padding":0,"symbolType":"M-1,-0.494H1V0.494H-1Z","symbolSize":6241,"symbolStrokeColor":"black","symbolStrokeWidth":3,"symbolOpacity":1,"labelFontSize":38,"labelFont":"Liberation Sans","labelColor":"black","labelOffset":10,"labelLimit":0,"rowPadding":7,"clipHeight":42}}}},
{"data":{"name":"bars"},"transform":[{"filter":"datum.panel === 'Edema'"}],"mark":{"type":"rule","color":"black","strokeWidth":3},"encoding":{"y":{"field":"lo","type":"quantitative","scale":{"domain":[0,15],"nice":false},"axis":{"title":["Hepatic Edema","(wet to dry weight ratio)"],"values":[0,5,10,15],"offset":-15,"titleX":-111,"titleY":307,"titleLineHeight":45}},"y2":{"field":"hi"}}},
{"data":{"name":"bars"},"transform":[{"filter":"datum.panel === 'Edema'"}],"mark":{"type":"point","shape":"M-1,0H1","filled":false,"color":"black","stroke":"black","strokeWidth":3,"size":1600,"opacity":1},"encoding":{"y":{"field":"hi","type":"quantitative","scale":{"domain":[0,15],"nice":false},"axis":{"title":["Hepatic Edema","(wet to dry weight ratio)"],"values":[0,5,10,15],"offset":-15,"titleX":-111,"titleY":307,"titleLineHeight":45}}}},
{"data":{"name":"bars"},"transform":[{"filter":"datum.panel === 'Edema'"}],"mark":{"type":"point","shape":"M-1,0H1","filled":false,"color":"black","stroke":"black","strokeWidth":3,"size":1600,"opacity":1},"encoding":{"y":{"field":"lo","type":"quantitative","scale":{"domain":[0,15],"nice":false},"axis":{"title":["Hepatic Edema","(wet to dry weight ratio)"],"values":[0,5,10,15],"offset":-15,"titleX":-111,"titleY":307,"titleLineHeight":45}}}},
{"data":{"name":"dots"},"transform":[{"lookup":"bar","from":{"data":{"name":"bars"},"key":"bar","fields":["panel","graft","treatment"]}},{"filter":"datum.panel === 'Edema'"},{"window":[{"op":"row_number","as":"r"},{"op":"count","as":"n"}],"groupby":["bar","value"],"frame":[null,null]},{"filter":"datum.n === 1"}],
"mark":{"type":"point","shape":"M-1,0A1,1,0,1,1,1,0A1,1,0,1,1,-1,0Z","filled":true,"color":"black","size":225,"opacity":1,"strokeWidth":0},"encoding":{"y":{"field":"value","type":"quantitative","scale":{"domain":[0,15],"nice":false},"axis":{"title":["Hepatic Edema","(wet to dry weight ratio)"],"values":[0,5,10,15],"offset":-15,"titleX":-111,"titleY":307,"titleLineHeight":45}}}},
{"data":{"name":"dots"},"transform":[{"lookup":"bar","from":{"data":{"name":"bars"},"key":"bar","fields":["panel","graft","treatment"]}},{"filter":"datum.panel === 'Edema'"},{"window":[{"op":"row_number","as":"r"},{"op":"count","as":"n"}],"groupby":["bar","value"],"frame":[null,null]},{"filter":"datum.n === 2"}],
"mark":{"type":"point","filled":true,"color":"black","size":225,"opacity":1,"strokeWidth":0},"encoding":{"y":{"field":"value","type":"quantitative","scale":{"domain":[0,15],"nice":false},"axis":{"title":["Hepatic Edema","(wet to dry weight ratio)"],"values":[0,5,10,15],"offset":-15,"titleX":-111,"titleY":307,"titleLineHeight":45}},"shape":{"field":"r","type":"ordinal","scale":{"domain":[1,2],"range":["M-2.53,0A1,1,0,1,1,-0.53,0A1,1,0,1,1,-2.53,0Z","M0.53,0A1,1,0,1,1,2.53,0A1,1,0,1,1,0.53,0Z"]},"legend":null}}},
{"data":{"name":"dots"},"transform":[{"lookup":"bar","from":{"data":{"name":"bars"},"key":"bar","fields":["panel","graft","treatment"]}},{"filter":"datum.panel === 'Edema'"},{"window":[{"op":"row_number","as":"r"},{"op":"count","as":"n"}],"groupby":["bar","value"],"frame":[null,null]},{"filter":"datum.n === 3"}],
"mark":{"type":"point","filled":true,"color":"black","size":225,"opacity":1,"strokeWidth":0},"encoding":{"y":{"field":"value","type":"quantitative","scale":{"domain":[0,15],"nice":false},"axis":{"title":["Hepatic Edema","(wet to dry weight ratio)"],"values":[0,5,10,15],"offset":-15,"titleX":-111,"titleY":307,"titleLineHeight":45}},"shape":{"field":"r","type":"ordinal","scale":{"domain":[1,2,3],"range":["M-4.07,0A1,1,0,1,1,-2.07,0A1,1,0,1,1,-4.07,0Z","M-1,0A1,1,0,1,1,1,0A1,1,0,1,1,-1,0Z","M2.07,0A1,1,0,1,1,4.07,0A1,1,0,1,1,2.07,0Z"]},"legend":null}}},
{"data":{"name":"dots"},"transform":[{"lookup":"bar","from":{"data":{"name":"bars"},"key":"bar","fields":["panel","graft","treatment"]}},{"filter":"datum.panel === 'Edema'"},{"window":[{"op":"row_number","as":"r"},{"op":"count","as":"n"}],"groupby":["bar","value"],"frame":[null,null]},{"filter":"datum.n === 4"}],
"mark":{"type":"point","filled":true,"color":"black","size":225,"opacity":1,"strokeWidth":0},"encoding":{"y":{"field":"value","type":"quantitative","scale":{"domain":[0,15],"nice":false},"axis":{"title":["Hepatic Edema","(wet to dry weight ratio)"],"values":[0,5,10,15],"offset":-15,"titleX":-111,"titleY":307,"titleLineHeight":45}},"shape":{"field":"r","type":"ordinal","scale":{"domain":[1,2,3,4],"range":["M-5.6,0A1,1,0,1,1,-3.6,0A1,1,0,1,1,-5.6,0Z","M-2.53,0A1,1,0,1,1,-0.53,0A1,1,0,1,1,-2.53,0Z","M0.53,0A1,1,0,1,1,2.53,0A1,1,0,1,1,0.53,0Z","M3.6,0A1,1,0,1,1,5.6,0A1,1,0,1,1,3.6,0Z"]},"legend":null}}},
{"data":{"name":"dots"},"transform":[{"aggregate":[{"op":"max","field":"value","as":"top"}],"groupby":["bar"]},{"lookup":"bar","from":{"data":{"name":"bars"},"key":"bar","fields":["panel","graft","treatment","star","sign"]}},{"filter":"datum.panel === 'Edema' && datum.star !== '' && datum.sign === ''"}],
"mark":{"type":"text","font":"DejaVu Sans","fontSize":20,"baseline":"middle","align":"center","dy":-38,"color":"black"},"encoding":{"y":{"field":"top","type":"quantitative","scale":{"domain":[0,15],"nice":false},"axis":{"title":["Hepatic Edema","(wet to dry weight ratio)"],"values":[0,5,10,15],"offset":-15,"titleX":-111,"titleY":307,"titleLineHeight":45}},"text":{"field":"star"}}},
{"data":{"name":"dots"},"transform":[{"aggregate":[{"op":"max","field":"value","as":"top"}],"groupby":["bar"]},{"lookup":"bar","from":{"data":{"name":"bars"},"key":"bar","fields":["panel","graft","treatment","star","sign"]}},{"filter":"datum.panel === 'Edema' && datum.sign !== ''"}],
"mark":{"type":"text","font":"DejaVu Sans","fontSize":20,"baseline":"middle","align":"center","dy":-38,"dx":-16,"color":"black"},"encoding":{"y":{"field":"top","type":"quantitative","scale":{"domain":[0,15],"nice":false},"axis":{"title":["Hepatic Edema","(wet to dry weight ratio)"],"values":[0,5,10,15],"offset":-15,"titleX":-111,"titleY":307,"titleLineHeight":45}},"text":{"field":"star"}}},
{"data":{"name":"dots"},"transform":[{"aggregate":[{"op":"max","field":"value","as":"top"}],"groupby":["bar"]},{"lookup":"bar","from":{"data":{"name":"bars"},"key":"bar","fields":["panel","graft","treatment","star","sign"]}},{"filter":"datum.panel === 'Edema' && datum.sign !== ''"}],
"mark":{"type":"text","font":"DejaVu Sans","fontSize":32,"baseline":"middle","align":"center","dy":-38,"dx":13,"color":"black"},"encoding":{"y":{"field":"top","type":"quantitative","scale":{"domain":[0,15],"nice":false},"axis":{"title":["Hepatic Edema","(wet to dry weight ratio)"],"values":[0,5,10,15],"offset":-15,"titleX":-111,"titleY":307,"titleLineHeight":45}},"text":{"field":"sign"}}},
{"data":{"name":"bars"},"transform":[{"filter":"datum.panel === 'Edema'"}],"mark":{"type":"text","angle":270,"align":"right","baseline":"middle","dx":-27,"fontSize":35,"font":"Liberation Sans","color":"black"},"encoding":{"y":{"datum":0,"type":"quantitative","scale":{"domain":[0,15],"nice":false},"axis":{"title":["Hepatic Edema","(wet to dry weight ratio)"],"values":[0,5,10,15],"offset":-15,"titleX":-111,"titleY":307,"titleLineHeight":45}},"text":{"field":"label"}}}
],
"resolve":{"scale":{"shape":"independent"}}
}
],
"resolve":{"scale":{"fill":"independent","shape":"independent"},"legend":{"fill":"independent"}},
"config":{
"view":{"stroke":null},
"font":"Liberation Sans",
"axisY":{"domainColor":"black","domainWidth":3,"tickColor":"black","tickWidth":3,"tickSize":13,"labelFontSize":36,"labelFont":"Liberation Sans","labelColor":"black","labelPadding":6,"grid":false,"titleFont":"Liberation Sans","titleFontSize":42,"titleFontWeight":"bold","titleColor":"black","titleLineHeight":50,"titleBaseline":"bottom"},
"axisX":{"grid":false}
}
}
